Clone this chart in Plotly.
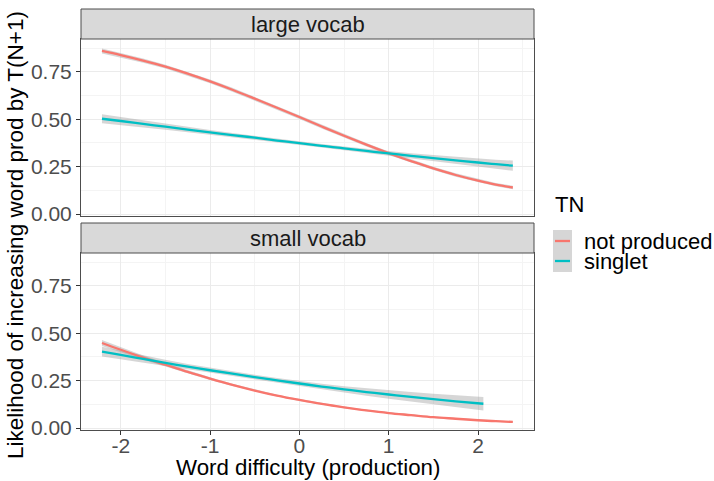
import plotly.graph_objects as go

# ---------------- data ----------------
facets = ["large vocab", "small vocab"]
groups = ["not produced", "singlet"]
colors = {"not produced": "#F8766D", "singlet": "#00BFC4"}

x_large_np = [-2.21, -2.0, -1.75, -1.5, -1.25, -1.0, -0.75, -0.5, -0.25, 0.0,
              0.25, 0.5, 0.75, 1.0, 1.25, 1.5, 1.75, 2.0, 2.2, 2.39]
y_large_np = [0.861, 0.839, 0.810, 0.778, 0.741, 0.700, 0.656, 0.609, 0.561, 0.512,
              0.462, 0.413, 0.366, 0.321, 0.279, 0.241, 0.206, 0.176, 0.155, 0.140]
ci_large_np = [0.013, 0.012, 0.011, 0.010, 0.010, 0.010, 0.010, 0.010, 0.010, 0.010,
               0.010, 0.010, 0.009, 0.009, 0.009, 0.009, 0.009, 0.009, 0.009, 0.009]

x_large_sg = [-2.21, -2.0, -1.75, -1.5, -1.25, -1.0, -0.75, -0.5, -0.25, 0.0,
              0.25, 0.5, 0.75, 1.0, 1.25, 1.5, 1.75, 2.0, 2.2, 2.39]
y_large_sg = [0.503, 0.491, 0.476, 0.461, 0.446, 0.431, 0.417, 0.403, 0.388, 0.374,
              0.360, 0.347, 0.333, 0.320, 0.307, 0.295, 0.283, 0.272, 0.263, 0.255]
ci_large_sg = [0.024, 0.021, 0.018, 0.016, 0.014, 0.012, 0.011, 0.010, 0.009, 0.009,
               0.009, 0.010, 0.011, 0.012, 0.014, 0.016, 0.018, 0.021, 0.024, 0.027]

x_small_np = [-2.21, -2.0, -1.75, -1.5, -1.25, -1.0, -0.75, -0.5, -0.25, 0.0,
              0.25, 0.5, 0.75, 1.0, 1.25, 1.5, 1.75, 2.0, 2.2, 2.39]
y_small_np = [0.449, 0.413, 0.372, 0.334, 0.296, 0.261, 0.228, 0.198, 0.171, 0.148,
              0.127, 0.109, 0.093, 0.079, 0.068, 0.057, 0.049, 0.041, 0.036, 0.032]
ci_small_np = [0.016, 0.013, 0.011, 0.009, 0.008, 0.007, 0.006, 0.006, 0.005, 0.005,
               0.005, 0.005, 0.004, 0.004, 0.004, 0.004, 0.003, 0.003, 0.003, 0.003]

x_small_sg = [-2.21, -2.0, -1.75, -1.5, -1.25, -1.0, -0.75, -0.5, -0.25, 0.0,
              0.25, 0.5, 0.75, 1.0, 1.25, 1.5, 1.75, 2.06]
y_small_sg = [0.403, 0.386, 0.365, 0.344, 0.324, 0.305, 0.287, 0.269, 0.252, 0.235,
              0.219, 0.204, 0.190, 0.177, 0.164, 0.152, 0.141, 0.128]
ci_small_sg = [0.026, 0.022, 0.019, 0.016, 0.014, 0.013, 0.012, 0.012, 0.012, 0.013,
               0.015, 0.017, 0.020, 0.023, 0.026, 0.029, 0.032, 0.036]

x_tickvals = [-2, -1, 0, 1, 2]
x_ticktext = ["-2", "-1", "0", "1", "2"]
y_tickvals = [0.0, 0.25, 0.5, 0.75]
y_ticktext = ["0.00", "0.25", "0.50", "0.75"]

x_title = "Word difficulty (production)"
y_title = "Likelihood of increasing word prod by T(N+1)"
legend_title = "TN"

series = {
    ("large vocab", "not produced"): (x_large_np, y_large_np, ci_large_np),
    ("large vocab", "singlet"): (x_large_sg, y_large_sg, ci_large_sg),
    ("small vocab", "not produced"): (x_small_np, y_small_np, ci_small_np),
    ("small vocab", "singlet"): (x_small_sg, y_small_sg, ci_small_sg),
}

# ---------------- layout helpers ----------------
W, H = 714, 481
FONT = "Liberation Sans, Arial, sans-serif"


def px(v):
    return v / W


def py(v):
    return 1 - v / H


panel_x = (81, 534)
panels_y = {"large vocab": (39, 216), "small vocab": (253, 430)}
strips_y = {"large vocab": (9, 39), "small vocab": (223, 253)}
axis_ids = {"large vocab": ("x", "y"), "small vocab": ("x2", "y2")}

fig = go.Figure()

# ribbons first
for facet in facets:
    xa, ya = axis_ids[facet]
    for g in groups:
        xs, ys, ci = series[(facet, g)]
        lo = [a - b for a, b in zip(ys, ci)]
        hi = [a + b for a, b in zip(ys, ci)]
        fig.add_trace(go.Scatter(
            x=list(xs) + list(xs)[::-1], y=hi + lo[::-1],
            fill="toself", fillcolor="rgba(153,153,153,0.4)",
            line=dict(width=0), mode="lines", hoverinfo="skip",
            showlegend=False, xaxis=xa, yaxis=ya))
# lines
for facet in facets:
    xa, ya = axis_ids[facet]
    for g in groups:
        xs, ys, ci = series[(facet, g)]
        fig.add_trace(go.Scatter(
            x=xs, y=ys, mode="lines", name=g,
            line=dict(color=colors[g], width=2.3, shape="spline"),
            showlegend=False, xaxis=xa, yaxis=ya))

xrange_ = [-2.445, 2.627]
yrange_ = [-0.0105, 0.924]

common_x = dict(range=xrange_, domain=[px(panel_x[0]), px(panel_x[1])],
                tickvals=x_tickvals, ticktext=x_ticktext,
                showgrid=True, gridcolor="#EBEBEB", gridwidth=1.1,
                minor=dict(dtick=0.5, tick0=0, showgrid=True, gridcolor="#F4F4F4", gridwidth=0.6),
                zeroline=False, showline=True, mirror=True, linecolor="#4D4D4D", linewidth=1,
                tickfont=dict(family=FONT, size=21, color="#4D4D4D"),
                automargin=False, fixedrange=True)
common_y = dict(range=yrange_, tickvals=y_tickvals, ticktext=y_ticktext,
                showgrid=True, gridcolor="#EBEBEB", gridwidth=1.1,
                minor=dict(dtick=0.125, tick0=0, showgrid=True, gridcolor="#F4F4F4", gridwidth=0.6),
                zeroline=False, showline=True, mirror=True, linecolor="#4D4D4D", linewidth=1,
                ticks="outside", ticklen=4, tickcolor="#333333",
                tickfont=dict(family=FONT, size=21, color="#4D4D4D"),
                automargin=False, fixedrange=True)

fig.update_layout(
    width=W, height=H,
    margin=dict(l=0, r=0, t=0, b=0),
    paper_bgcolor="white", plot_bgcolor="white",
    showlegend=False,
    xaxis=dict(common_x, anchor="y", showticklabels=False, ticks=""),
    yaxis=dict(common_y, anchor="x",
               domain=[py(panels_y["large vocab"][1]), py(panels_y["large vocab"][0])]),
    xaxis2=dict(common_x, anchor="y2", showticklabels=True, ticks="outside",
                ticklen=4, tickcolor="#333333", matches="x", ticklabelstandoff=-7),
    yaxis2=dict(common_y, anchor="x2",
                domain=[py(panels_y["small vocab"][1]), py(panels_y["small vocab"][0])]),
)

shapes = []
annotations = []
for facet in facets:
    y0, y1 = strips_y[facet]
    shapes.append(dict(type="rect", xref="paper", yref="paper",
                       x0=px(panel_x[0]), x1=px(panel_x[1]), y0=py(y1), y1=py(y0),
                       fillcolor="#D9D9D9", line=dict(color="#4D4D4D", width=1)))
    annotations.append(dict(text=facet, xref="paper", yref="paper",
                            x=px((panel_x[0] + panel_x[1]) / 2), y=py((y0 + y1) / 2),
                            xanchor="center", yanchor="middle", showarrow=False,
                            font=dict(family=FONT, size=22, color="#1A1A1A")))

annotations.append(dict(text=x_title, xref="paper", yref="paper",
                        x=px((panel_x[0] + panel_x[1]) / 2), y=py(467),
                        xanchor="center", yanchor="middle", showarrow=False,
                        font=dict(family=FONT, size=22.3, color="black")))
annotations.append(dict(text=y_title, xref="paper", yref="paper",
                        x=px(15), y=py(235), textangle=-90,
                        xanchor="center", yanchor="middle", showarrow=False,
                        font=dict(family=FONT, size=22.5, color="black")))

# legend (manual, ggplot style)
annotations.append(dict(text=legend_title, xref="paper", yref="paper",
                        x=px(553), y=py(205), xanchor="left", yanchor="middle",
                        showarrow=False, font=dict(family=FONT, size=22, color="black")))
shapes.append(dict(type="rect", xref="paper", yref="paper",
                   x0=px(553), x1=px(572), y0=py(272), y1=py(230),
                   fillcolor="rgba(153,153,153,0.4)", line=dict(width=0)))
key_y = [241, 261]
for g, ky in zip(groups, key_y):
    shapes.append(dict(type="line", xref="paper", yref="paper",
                       x0=px(555), x1=px(570), y0=py(ky), y1=py(ky),
                       line=dict(color=colors[g], width=2.3)))
    annotations.append(dict(text=g, xref="paper", yref="paper",
                            x=px(582), y=py(ky), xanchor="left", yanchor="middle",
                            showarrow=False, font=dict(family=FONT, size=22, color="black")))

fig.update_layout(shapes=shapes, annotations=annotations)
# remove the default 8px page margin so the figure fills the window exactly
fig.write_html("out.html", config={"displayModeBar": False},
               post_script="document.body.style.margin='0';")
